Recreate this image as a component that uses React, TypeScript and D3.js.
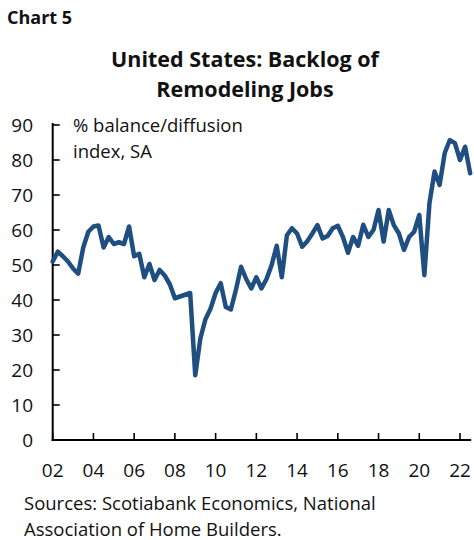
import React from 'react';
import * as d3 from 'd3';

const chartLabel = 'Chart 5';
const titleLines = ['United States: Backlog of', 'Remodeling Jobs'];
const unitLines = ['% balance/diffusion', 'index, SA'];
const sourceLines = ['Sources: Scotiabank Economics, National', 'Association of Home Builders.'];

const startYear = 2002; // first quarter: 2002 Q1, quarterly data
const values = [
  51, 53.8, 52.5, 51, 49, 47.5, 55, 59.5,
  61, 61.3, 55, 58, 56, 56.5, 56, 61,
  52.5, 53.2, 46.5, 50.3, 45.7, 48.6, 47, 44.5,
  40.5, 41, 41.5, 42, 18.5, 29, 34.5, 37.5,
  42, 44.8, 38, 37.3, 43, 49.5, 46, 43.3,
  46.5, 43.3, 46, 50, 55.5, 46.5, 58.5, 60.5,
  59, 55.2, 56.8, 59, 61.4, 57.6, 58.3, 60.5,
  61.2, 58, 53.5, 58, 55.5, 61.5, 58, 60,
  65.7, 56.7, 65.7, 61.4, 59, 54.3, 58, 59.5,
  64.3, 47.1, 67.7, 76.7, 72.9, 82, 85.7, 84.8,
  80, 83.8, 76.2,
];

const yTicks = [0, 10, 20, 30, 40, 50, 60, 70, 80, 90];
const xTickYears = [2002, 2004, 2006, 2008, 2010, 2012, 2014, 2016, 2018, 2020, 2022];
const xTickLabels = ['02', '04', '06', '08', '10', '12', '14', '16', '18', '20', '22'];

export default function App() {
  const W = 474;
  const H = 540;
  const left = 52.7;
  const bottom = 440;
  const x = d3.scaleLinear().domain([2002, 2022]).range([left, 460]);
  const y = d3.scaleLinear().domain([0, 90]).range([bottom, 125]);
  const pts: [number, number][] = values.map((v, i) => [startYear + i / 4, v]);
  const line = d3
    .line<[number, number]>()
    .x((d) => x(d[0]))
    .y((d) => y(d[1]));
  const font = "'Open Sans', 'Noto Sans', sans-serif";
  const lineColor = '#1f4e80';
  const xEnd = x(startYear + (values.length - 1) / 4) + 1;

  return (
    <svg
      width={W}
      height={H}
      viewBox={`0 0 ${W} ${H}`}
      style={{ position: 'absolute', left: 0, top: 0, background: '#fff' }}
      fontFamily={font}
    >
      <rect x={0} y={0} width={W} height={H} fill="#fff" />
      <text x={7} y={24} fontSize={18} fontWeight={700} fill="#111">
        {chartLabel}
      </text>
      {titleLines.map((t, i) => (
        <text key={t} x={245} y={67 + i * 29.5} fontSize={21.5} fontWeight={700} textAnchor="middle" fill="#111">
          {t}
        </text>
      ))}
      {unitLines.map((t, i) => (
        <text key={t} x={73} y={132 + i * 26} fontSize={18.5} fill="#111">
          {t}
        </text>
      ))}
      {/* y ticks and labels */}
      {yTicks.map((t) => (
        <g key={t}>
          <line x1={left} x2={left + 7} y1={y(t)} y2={y(t)} stroke="#000" strokeWidth={1.6} />
          <text x={33} y={y(t)} dy="0.36em" fontSize={19} textAnchor="end" fill="#111">
            {t}
          </text>
        </g>
      ))}
      {/* x ticks and labels */}
      {xTickYears.map((yr, i) => (
        <g key={yr}>
          <line x1={x(yr)} x2={x(yr)} y1={bottom} y2={bottom - 7} stroke="#000" strokeWidth={1.6} />
          <text x={x(yr)} y={477} fontSize={19} textAnchor="middle" fill="#111">
            {xTickLabels[i]}
          </text>
        </g>
      ))}
      <line x1={left} x2={left} y1={123} y2={bottom + 1} stroke="#000" strokeWidth={2} />
      <line x1={left - 1} x2={xEnd} y1={bottom} y2={bottom} stroke="#000" strokeWidth={2.2} />
      <path
        d={line(pts) || ''}
        fill="none"
        stroke={lineColor}
        strokeWidth={4.5}
        strokeLinejoin="round"
        strokeLinecap="round"
      />
      {sourceLines.map((t, i) => (
        <text key={t} x={24} y={510 + i * 25.5} fontSize={18.5} fill="#111">
          {t}
        </text>
      ))}
    </svg>
  );
}
